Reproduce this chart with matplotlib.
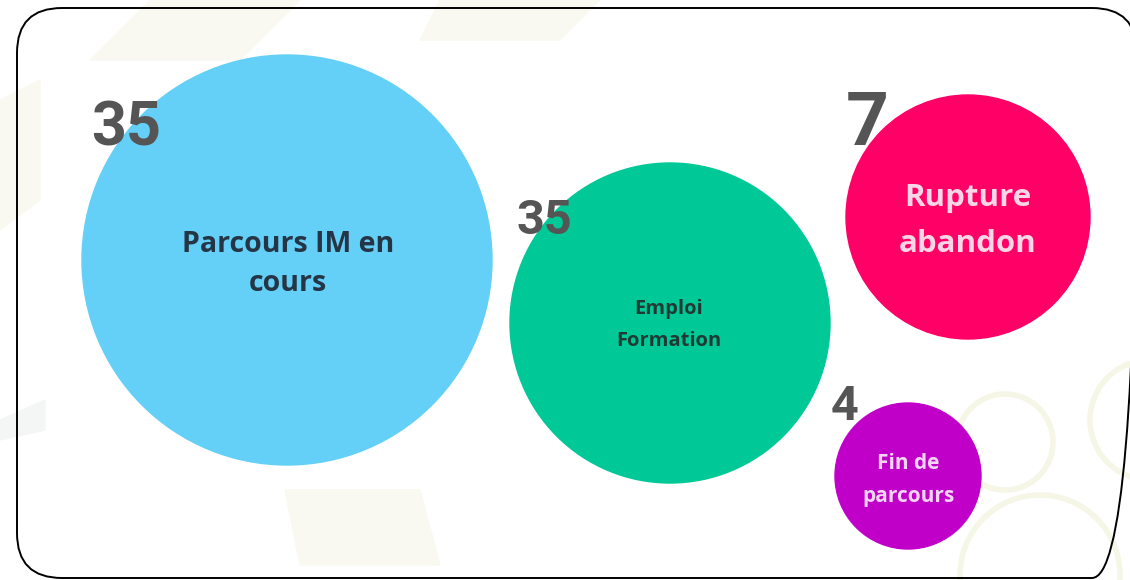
import matplotlib
matplotlib.use("Agg")
import matplotlib.pyplot as plt
from matplotlib.patches import Circle, FancyBboxPatch, Polygon

# ---- data ----
categories = ["Parcours IM en\ncours", "Emploi\nFormation", "Rupture\nabandon", "Fin de\nparcours"]
values = [35, 35, 7, 4]
colors = ["#64cff7", "#00c896", "#ff0066", "#c000c8"]
label_colors = ["#253545", "#1f3a35", "#f9d6e5", "#f3d6f3"]

# ---- layout (pixel coordinates in a 1130x580 canvas) ----
centers = [(287, 260), (670, 323), (968, 217), (908, 476)]
radii = [205, 160, 122, 73]
label_pos = [(288, 264), (669, 325), (968, 221), (908, 480)]
label_sizes = [20.5, 14.5, 22.5, 15]
label_spacing = [1.44, 1.76, 1.67, 1.71]
value_pos = [(91, 145), (516, 234), (846, 145), (831, 420)]
value_sizes = [44, 35, 54, 35]

fig = plt.figure(figsize=(11.3, 5.8), dpi=100)
ax = fig.add_axes([0, 0, 1, 1])
ax.set_xlim(0, 1130)
ax.set_ylim(580, 0)
ax.set_aspect("equal")
ax.axis("off")

# faint watermark shapes
wm = "#f9f9f1"
ax.add_patch(Polygon([(150, 0), (300, 0), (240, 60), (90, 60)], closed=True, color=wm, zorder=0))
ax.add_patch(Polygon([(440, 0), (600, 0), (560, 40), (420, 40)], closed=True, color=wm, zorder=0))
ax.add_patch(Polygon([(0, 100), (40, 80), (40, 200), (0, 230)], closed=True, color=wm, zorder=0))
ax.add_patch(Polygon([(0, 420), (45, 400), (45, 430), (0, 440)], closed=True, color="#f4f5f5", zorder=0))
ax.add_patch(Polygon([(285, 490), (420, 490), (440, 565), (300, 565)], closed=True, color=wm, zorder=0))
for cx, cy, r in [(1005, 442, 48), (1150, 420, 60), (1040, 575, 80)]:
    ax.add_patch(Circle((cx, cy), r, fill=False, ec="#f5f6e6", lw=4, zorder=0))

# rounded border
border = FancyBboxPatch((62, 53), 1030, 480,
                        boxstyle="round,pad=45,rounding_size=45",
                        fc="none", ec="black", lw=1.4, zorder=1)
ax.add_patch(border)

for cat, val, col, lcol, c, r, lp, ls, lsp, vp, vs in zip(
        categories, values, colors, label_colors, centers, radii,
        label_pos, label_sizes, label_spacing, value_pos, value_sizes):
    ax.add_patch(Circle(c, r, color=col, zorder=2))
    ax.text(lp[0], lp[1], cat, ha="center", va="center", color=lcol,
            fontsize=ls, fontweight="bold", family="Open Sans", linespacing=lsp, zorder=3)
    ax.text(vp[0], vp[1], str(val), ha="left", va="baseline", color="#555555",
            fontsize=vs, fontweight="bold", family="Roboto", zorder=4)

fig.savefig("out.png", dpi=100, facecolor="white")
